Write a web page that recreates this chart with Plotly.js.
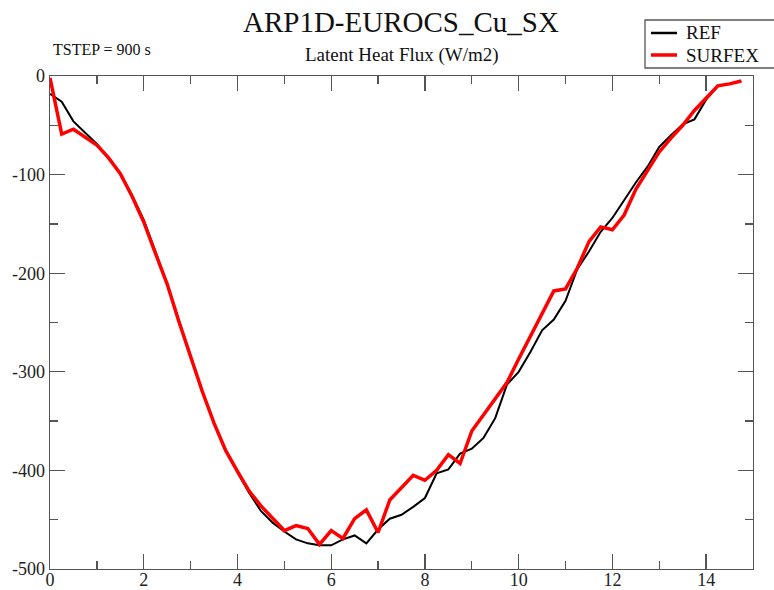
<!DOCTYPE html>
<html>
<head>
<meta charset="utf-8">
<script src="https://cdn.plot.ly/plotly-3.0.1.min.js"></script>
<style>body{margin:0;padding:0;background:#fff;} #chart{width:774px;height:590px;}</style>
</head>
<body>
<div id="chart"></div>
<script>
// time in hours (TSTEP = 900 s)
const hours = [0,0.25,0.5,0.75,1,1.25,1.5,1.75,2,2.25,2.5,2.75,3,3.25,3.5,3.75,4,4.25,4.5,4.75,5,5.25,5.5,5.75,6,6.25,6.5,6.75,7,7.25,7.5,7.75,8,8.25,8.5,8.75,9,9.25,9.5,9.75,10,10.25,10.5,10.75,11,11.25,11.5,11.75,12,12.25,12.5,12.75,13,13.25,13.5,13.75,14,14.25,14.5,14.75];
const refFlux = [-18,-26,-46,-57,-69,-83,-99,-121,-146,-178,-211,-248,-285,-320,-352,-380,-402,-423,-441,-453,-462,-470,-474,-476,-476,-470,-466,-474,-460,-449,-445,-437,-428,-403,-399,-383,-378,-367,-347,-313,-300,-280,-258,-247,-228,-196,-178,-158,-144,-126,-108,-92,-72,-60,-49,-44,-24,-10,-8,-5];
const surfexFlux = [-2,-59,-54,-62,-70,-83,-99,-122,-148,-180,-211,-249,-285,-320,-352,-380,-401,-421,-436,-448,-461,-456,-459,-475,-461,-469,-449,-440,-463,-430,-418,-405,-410,-400,-384,-393,-360,-344,-328,-311,-287,-264,-241,-218,-216,-195,-168,-153,-156,-141,-115,-96,-77,-63,-50,-35,-22,-10,-8,-5];
const seriesNames = ['REF','SURFEX'];
const seriesColors = ['#000000','#ff0000'];
const seriesWidths = [2, 3.5];
const xTickVals = [0,2,4,6,8,10,12,14];
const xTickText = ['0','2','4','6','8','10','12','14'];
const yTickVals = [0,-100,-200,-300,-400,-500];
const yTickText = ['0','-100','-200','-300','-400','-500'];

const serif = 'Liberation Serif, Times New Roman, serif';
const axisColor = '#555555';

const traces = [
  {x: hours, y: refFlux, name: seriesNames[0], type: 'scatter', mode: 'lines',
   line: {color: seriesColors[0], width: seriesWidths[0]}},
  {x: hours, y: surfexFlux, name: seriesNames[1], type: 'scatter', mode: 'lines',
   line: {color: seriesColors[1], width: seriesWidths[1]}}
];

const axisCommon = {
  showgrid: false, zeroline: false, showline: true, linecolor: axisColor, linewidth: 1.3,
  mirror: 'allticks', ticks: 'inside', ticklen: 15, tickwidth: 1.3, tickcolor: axisColor,
  tickfont: {family: serif, size: 18, color: '#222'}
};

// plot area in pixels: left 50, right 753, top 76, bottom 569
const PL = 50, PR = 753, PT = 76, PB = 569;
const px = v => (v - PL) / (PR - PL);
const py = v => (PB - v) / (PB - PT);

// hand-drawn legend box (paper coordinates)
const legendShapes = [
  {type: 'rect', xref: 'paper', yref: 'paper', x0: px(645), x1: px(778), y0: py(68), y1: py(20),
   line: {color: axisColor, width: 1.3}, fillcolor: '#fff', layer: 'above'}
];
const legendAnnotations = [];
seriesNames.forEach((nm, i) => {
  const yy = i === 0 ? 33 : 55;
  legendShapes.push({type: 'line', xref: 'paper', yref: 'paper', x0: px(651), x1: px(677), y0: py(yy), y1: py(yy),
    line: {color: seriesColors[i], width: i === 0 ? 2.5 : 3.5}, layer: 'above'});
  legendAnnotations.push({xref: 'paper', yref: 'paper', x: px(684), y: py(yy), xanchor: 'left', yanchor: 'middle',
    text: nm, showarrow: false, font: {family: serif, size: 19, color: '#111'}});
});

const layout = {
  width: 774, height: 590,
  margin: {l: PL, r: 774 - PR, t: PT, b: 590 - PB},
  paper_bgcolor: '#fff', plot_bgcolor: '#fff',
  showlegend: false,
  title: {text: 'ARP1D-EUROCS_Cu_SX', x: 0.518, xanchor: 'center', y: 0.963, yanchor: 'middle',
          font: {family: serif, size: 29, color: '#111'}},
  xaxis: Object.assign({}, axisCommon, {
    range: [0, 15], tickmode: 'array', tickvals: xTickVals, ticktext: xTickText, ticklabelstandoff: -6,
    minor: {tickmode: 'linear', tick0: 0, dtick: 1, ticklen: 8, tickwidth: 1.3, tickcolor: axisColor, ticks: 'inside'}
  }),
  yaxis: Object.assign({}, axisCommon, {
    range: [-500, 0], tickmode: 'array', tickvals: yTickVals, ticktext: yTickText,
    minor: {tickmode: 'linear', tick0: 0, dtick: 50, ticklen: 8, tickwidth: 1.3, tickcolor: axisColor, ticks: 'inside'}
  }),
  shapes: legendShapes,
  annotations: [
    {xref: 'paper', yref: 'paper', x: px(402), y: py(55), xanchor: 'center', yanchor: 'middle',
     text: 'Latent Heat Flux (W/m2)', showarrow: false, font: {family: serif, size: 19, color: '#111'}},
    {xref: 'paper', yref: 'paper', x: px(51), y: py(50), xanchor: 'left', yanchor: 'middle',
     text: 'TSTEP = 900 s', showarrow: false, font: {family: serif, size: 16, color: '#111'}}
  ].concat(legendAnnotations)
};

Plotly.newPlot('chart', traces, layout, {displayModeBar: false, staticPlot: true});
</script>
</body>
</html>
